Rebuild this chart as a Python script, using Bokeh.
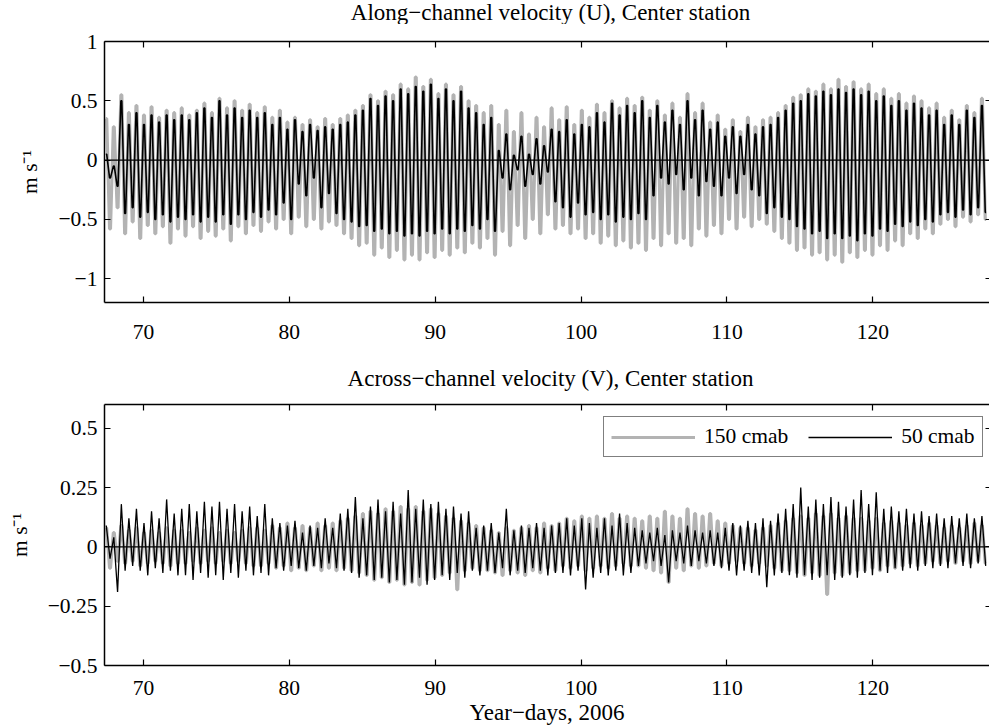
from bokeh.plotting import figure
from bokeh.models import Span, LinearAxis, Legend, LegendItem, FixedTicker, Range1d, Title, Label
from bokeh.layouts import column
from bokeh.embed import file_html
from bokeh.resources import INLINE

FONT = "Liberation Serif"
FS = "21.5px"
FS_TITLE = "23px"
GRAY = "#b3b3b3"

# sampling of the semidiurnal cycles (year-day of first flood peak, cycle length in days)
start_day = 67.45
tidal_period = 0.5175

x_ticks = [70, 80, 90, 100, 110, 120]
u_ticks = [-1, -0.5, 0, 0.5, 1]
u_tick_labels = ["\u22121", "\u22120.5", "0", "0.5", "1"]
v_ticks = [-0.5, -0.25, 0, 0.25, 0.5]
v_tick_labels = ["\u22120.5", "\u22120.25", "0", "0.25", "0.5"]

# Along-channel velocity U (m/s): flood peak / ebb trough of each tidal cycle
u150_hi = [0.35, 0.28, 0.55, 0.40, 0.46, 0.38, 0.45, 0.36, 0.42, 0.40,
           0.44, 0.38, 0.42, 0.48, 0.40, 0.52, 0.44, 0.50, 0.42, 0.47,
           0.40, 0.45, 0.36, 0.42, 0.32, 0.36, 0.30, 0.34, 0.28, 0.35,
           0.30, 0.35, 0.38, 0.42, 0.46, 0.55, 0.50, 0.58, 0.55, 0.64,
           0.60, 0.70, 0.62, 0.68, 0.56, 0.64, 0.55, 0.62, 0.50, 0.46,
           0.40, 0.46, 0.30, 0.42, 0.24, 0.40, 0.22, 0.36, 0.28, 0.44,
           0.34, 0.45, 0.30, 0.42, 0.36, 0.47, 0.40, 0.50, 0.44, 0.52,
           0.46, 0.53, 0.42, 0.50, 0.38, 0.48, 0.36, 0.56, 0.40, 0.48,
           0.32, 0.38, 0.26, 0.34, 0.24, 0.36, 0.28, 0.34, 0.36, 0.40,
           0.46, 0.53, 0.55, 0.60, 0.58, 0.64, 0.60, 0.68, 0.62, 0.66,
           0.60, 0.64, 0.56, 0.60, 0.52, 0.56, 0.48, 0.54, 0.50, 0.44,
           0.48, 0.36, 0.42, 0.34, 0.46, 0.40, 0.52]
u150_lo = [-0.58, -0.40, -0.62, -0.52, -0.66, -0.55, -0.62, -0.56, -0.70, -0.58,
           -0.64, -0.56, -0.66, -0.60, -0.64, -0.58, -0.68, -0.56, -0.62, -0.55,
           -0.60, -0.52, -0.58, -0.50, -0.62, -0.48, -0.56, -0.50, -0.58, -0.52,
           -0.55, -0.62, -0.66, -0.72, -0.70, -0.80, -0.74, -0.82, -0.76, -0.84,
           -0.80, -0.84, -0.78, -0.82, -0.76, -0.80, -0.74, -0.78, -0.70, -0.74,
           -0.66, -0.80, -0.60, -0.72, -0.55, -0.66, -0.50, -0.62, -0.46, -0.58,
           -0.55, -0.62, -0.58, -0.66, -0.62, -0.70, -0.64, -0.72, -0.68, -0.74,
           -0.70, -0.76, -0.66, -0.72, -0.62, -0.70, -0.66, -0.72, -0.58, -0.64,
           -0.55, -0.62, -0.50, -0.58, -0.48, -0.56, -0.50, -0.54, -0.60, -0.66,
           -0.70, -0.76, -0.74, -0.80, -0.78, -0.84, -0.80, -0.86, -0.78, -0.82,
           -0.76, -0.80, -0.72, -0.76, -0.68, -0.72, -0.62, -0.66, -0.58, -0.62,
           -0.54, -0.50, -0.56, -0.48, -0.52, -0.46, -0.50]
u50_hi = [0.05, -0.05, 0.50, 0.30, 0.40, 0.30, 0.38, 0.32, 0.38, 0.34,
          0.38, 0.34, 0.40, 0.44, 0.36, 0.50, 0.38, 0.44, 0.36, 0.42,
          0.36, 0.40, 0.30, 0.36, 0.26, 0.34, 0.24, 0.30, 0.25, 0.28,
          0.26, 0.30, 0.32, 0.38, 0.42, 0.52, 0.46, 0.54, 0.50, 0.60,
          0.56, 0.62, 0.58, 0.64, 0.52, 0.60, 0.50, 0.58, 0.44, 0.40,
          0.30, 0.36, 0.08, 0.22, 0.04, 0.20, 0.05, 0.18, 0.12, 0.26,
          0.24, 0.34, 0.22, 0.30, 0.28, 0.40, 0.32, 0.48, 0.38, 0.46,
          0.40, 0.50, 0.36, 0.46, 0.32, 0.42, 0.30, 0.50, 0.34, 0.42,
          0.26, 0.32, 0.20, 0.28, 0.20, 0.30, 0.22, 0.28, 0.30, 0.36,
          0.42, 0.48, 0.50, 0.56, 0.54, 0.58, 0.55, 0.60, 0.57, 0.60,
          0.55, 0.58, 0.50, 0.54, 0.46, 0.50, 0.42, 0.48, 0.44, 0.38,
          0.42, 0.30, 0.38, 0.30, 0.42, 0.36, 0.46]
u50_lo = [-0.15, -0.22, -0.45, -0.40, -0.48, -0.44, -0.50, -0.46, -0.52, -0.48,
          -0.50, -0.46, -0.52, -0.48, -0.52, -0.46, -0.54, -0.46, -0.50, -0.44,
          -0.48, -0.42, -0.46, -0.36, -0.50, -0.20, -0.30, -0.15, -0.40, -0.28,
          -0.45, -0.50, -0.52, -0.56, -0.55, -0.60, -0.58, -0.62, -0.60, -0.64,
          -0.62, -0.64, -0.60, -0.62, -0.58, -0.62, -0.58, -0.60, -0.55, -0.58,
          -0.50, -0.60, -0.15, -0.25, -0.08, -0.22, -0.12, -0.20, -0.10, -0.35,
          -0.40, -0.48, -0.36, -0.46, -0.44, -0.50, -0.46, -0.52, -0.48, -0.50,
          -0.45, -0.50, -0.30, -0.15, -0.20, -0.12, -0.25, -0.15, -0.30, -0.18,
          -0.22, -0.30, -0.15, -0.28, -0.12, -0.25, -0.30, -0.45, -0.40, -0.48,
          -0.50, -0.56, -0.58, -0.62, -0.60, -0.66, -0.62, -0.66, -0.64, -0.68,
          -0.62, -0.64, -0.58, -0.60, -0.54, -0.56, -0.52, -0.55, -0.50, -0.52,
          -0.46, -0.44, -0.48, -0.42, -0.46, -0.40, -0.44]

# Across-channel velocity V (m/s)
v150_hi = [0.08, 0.06, 0.09, 0.07, 0.08, 0.06, 0.07, 0.06, 0.08, 0.07,
           0.07, 0.06, 0.08, 0.07, 0.08, 0.06, 0.07, 0.06, 0.07, 0.08,
           0.08, 0.07, 0.09, 0.08, 0.10, 0.08, 0.09, 0.08, 0.10, 0.09,
           0.10, 0.11, 0.12, 0.13, 0.14, 0.15, 0.14, 0.16, 0.15, 0.17,
           0.16, 0.17, 0.15, 0.16, 0.14, 0.13, 0.12, 0.11, 0.10, 0.09,
           0.08, 0.07, 0.06, 0.08, 0.07, 0.08, 0.09, 0.08, 0.10, 0.09,
           0.10, 0.12, 0.11, 0.13, 0.12, 0.13, 0.12, 0.14, 0.12, 0.13,
           0.12, 0.11, 0.13, 0.12, 0.15, 0.13, 0.12, 0.16, 0.14, 0.13,
           0.14, 0.11, 0.10, 0.09, 0.08, 0.08, 0.07, 0.08, 0.09, 0.10,
           0.11, 0.12, 0.13, 0.12, 0.14, 0.13, 0.14, 0.12, 0.13, 0.12,
           0.12, 0.11, 0.12, 0.10, 0.11, 0.10, 0.09, 0.10, 0.09, 0.10,
           0.09, 0.08, 0.09, 0.08, 0.09, 0.10, 0.09]
v150_lo = [-0.09, -0.06, -0.07, -0.06, -0.08, -0.07, -0.06, -0.07, -0.08, -0.07,
           -0.07, -0.06, -0.07, -0.06, -0.07, -0.06, -0.07, -0.06, -0.07, -0.08,
           -0.08, -0.07, -0.09, -0.08, -0.10, -0.09, -0.10, -0.08, -0.10, -0.09,
           -0.10, -0.09, -0.10, -0.11, -0.12, -0.14, -0.13, -0.15, -0.14, -0.16,
           -0.15, -0.16, -0.14, -0.13, -0.12, -0.11, -0.18, -0.10, -0.09, -0.10,
           -0.10, -0.11, -0.12, -0.10, -0.11, -0.12, -0.10, -0.11, -0.09, -0.10,
           -0.08, -0.09, -0.08, -0.10, -0.09, -0.08, -0.09, -0.08, -0.07, -0.08,
           -0.08, -0.09, -0.10, -0.11, -0.15, -0.09, -0.10, -0.08, -0.09, -0.08,
           -0.07, -0.08, -0.07, -0.06, -0.07, -0.08, -0.07, -0.08, -0.09, -0.10,
           -0.10, -0.11, -0.12, -0.11, -0.12, -0.20, -0.11, -0.12, -0.11, -0.10,
           -0.10, -0.09, -0.10, -0.08, -0.09, -0.08, -0.07, -0.08, -0.07, -0.06,
           -0.07, -0.06, -0.07, -0.06, -0.07, -0.06, -0.07]
v50_hi = [0.09, 0.04, 0.18, 0.12, 0.16, 0.10, 0.15, 0.12, 0.20, 0.14,
          0.16, 0.18, 0.15, 0.19, 0.17, 0.19, 0.16, 0.18, 0.15, 0.17,
          0.13, 0.18, 0.12, 0.10, 0.09, 0.11, 0.06, 0.09, 0.08, 0.12,
          0.08, 0.14, 0.16, 0.21, 0.12, 0.17, 0.20, 0.15, 0.19, 0.14,
          0.24, 0.16, 0.20, 0.18, 0.19, 0.16, 0.17, 0.14, 0.15, 0.08,
          0.09, 0.10, 0.06, 0.16, 0.07, 0.09, 0.08, 0.10, 0.08, 0.09,
          0.10, 0.12, 0.09, 0.12, 0.10, 0.08, 0.12, 0.09, 0.14, 0.10,
          0.08, 0.07, 0.06, 0.08, 0.05, 0.07, 0.06, 0.09, 0.07, 0.06,
          0.07, 0.06, 0.08, 0.10, 0.09, 0.11, 0.10, 0.12, 0.11, 0.14,
          0.16, 0.18, 0.25, 0.17, 0.20, 0.18, 0.21, 0.19, 0.17, 0.20,
          0.24, 0.18, 0.23, 0.16, 0.17, 0.15, 0.16, 0.14, 0.15, 0.13,
          0.14, 0.12, 0.13, 0.12, 0.14, 0.12, 0.13]
v50_lo = [-0.05, -0.19, -0.10, -0.08, -0.10, -0.12, -0.09, -0.11, -0.10, -0.12,
          -0.12, -0.14, -0.11, -0.13, -0.12, -0.14, -0.11, -0.13, -0.10, -0.12,
          -0.11, -0.12, -0.09, -0.10, -0.08, -0.09, -0.10, -0.08, -0.09, -0.07,
          -0.09, -0.10, -0.11, -0.13, -0.12, -0.14, -0.13, -0.15, -0.14, -0.16,
          -0.15, -0.13, -0.16, -0.14, -0.12, -0.14, -0.11, -0.13, -0.10, -0.12,
          -0.10, -0.11, -0.09, -0.12, -0.10, -0.11, -0.09, -0.10, -0.12, -0.11,
          -0.11, -0.12, -0.10, -0.18, -0.13, -0.11, -0.12, -0.10, -0.12, -0.11,
          -0.08, -0.07, -0.06, -0.08, -0.15, -0.06, -0.07, -0.08, -0.06, -0.07,
          -0.08, -0.09, -0.10, -0.12, -0.10, -0.11, -0.12, -0.17, -0.12, -0.11,
          -0.12, -0.13, -0.12, -0.14, -0.13, -0.12, -0.14, -0.13, -0.12, -0.13,
          -0.11, -0.12, -0.10, -0.11, -0.09, -0.10, -0.09, -0.10, -0.08, -0.09,
          -0.08, -0.09, -0.07, -0.08, -0.09, -0.07, -0.08]

X0, X1 = 67.33, 128.0
PAGE_W = 989
FRAME_LEFT = 104
TITLE_CENTER = 550


def series(hi, lo, hold):
    # each extreme is held for a short time (flat crest / trough of the tidal cycle)
    t, v = [], []
    for i, (h, l) in enumerate(zip(hi, lo)):
        th = start_day + i * tidal_period
        tl = th + tidal_period / 2
        t += [th - hold, th + hold, tl - hold, tl + hold]
        v += [h, h, l, l]
    return t, v


def style_axis(ax, labels=True):
    ax.axis_line_width = 1.5
    ax.axis_line_color = "black"
    ax.major_tick_in = 6
    ax.major_tick_out = 0
    ax.major_tick_line_width = 1.2
    ax.major_tick_line_color = "black"
    ax.minor_tick_line_color = None
    ax.major_label_text_font = FONT
    ax.major_label_text_font_size = FS if labels else "1px"
    ax.major_label_text_color = "black" if labels else None
    ax.axis_label_text_font = FONT
    ax.axis_label_text_font_size = FS
    ax.axis_label_text_font_style = "normal"
    ax.axis_label_text_color = "black"


def make_title(text, standoff):
    return Title(text=text, align="center", standoff=standoff,
                 text_font=FONT, text_font_size=FS_TITLE, text_font_style="normal", text_color="black")


def title_strip(text, height):
    # a bare strip (no axes) that only carries a heading; its frame is aligned with the plots below
    p = figure(width=PAGE_W, height=height, x_range=Range1d(FRAME_LEFT, PAGE_W),
               y_range=Range1d(0, height), output_backend="svg", toolbar_location=None, title=None,
               min_border=0, x_axis_location=None, y_axis_location=None)
    p.outline_line_color = None
    p.grid.visible = False
    p.background_fill_color = "white"
    p.border_fill_color = "white"
    p.add_layout(Label(x=TITLE_CENTER, y=height / 2, text=text, text_align="center",
                       text_baseline="middle", text_font=FONT, text_font_size=FS_TITLE,
                       text_color="black"))
    return p


def make_fig(height, btop, bbottom, yr, yticks, ylabels, xstand):
    p = figure(width=PAGE_W, height=height, x_range=Range1d(X0, X1), y_range=Range1d(*yr),
               output_backend="svg", toolbar_location=None, title=None,
               min_border_left=FRAME_LEFT, min_border_right=0, min_border_top=btop,
               min_border_bottom=bbottom)
    p.outline_line_color = None
    p.xgrid.visible = False
    p.ygrid.visible = False
    p.background_fill_color = "white"
    p.border_fill_color = "white"

    bottom = p.below[0]
    left = p.left[0]
    style_axis(bottom)
    style_axis(left)
    bottom.ticker = FixedTicker(ticks=x_ticks)
    bottom.major_label_standoff = xstand
    left.ticker = FixedTicker(ticks=yticks)
    left.major_label_overrides = {float(k): s for k, s in zip(yticks, ylabels)}
    left.major_label_standoff = 7
    left.axis_label = "m s\u207b\u00b9"
    left.axis_label_standoff = 13

    top = LinearAxis(ticker=FixedTicker(ticks=x_ticks), major_label_standoff=0)
    style_axis(top, labels=False)
    p.add_layout(top, "above")

    right = LinearAxis(ticker=FixedTicker(ticks=yticks), major_label_standoff=0)
    style_axis(right, labels=False)
    right.axis_line_color = None
    right.major_tick_in = 4
    p.add_layout(right, "right")

    p.add_layout(Span(location=0, dimension="width", line_color="black", line_width=1.2))
    return p


p0 = title_strip("Along\u2212channel velocity (U), Center station", 24)

p1 = make_fig(341, 17, 63, (-1.2, 1.0), u_ticks, u_tick_labels, 22)
t, v = series(u150_hi, u150_lo, 0.03)
p1.line(t, v, line_color=GRAY, line_width=3.2)
t, v = series(u50_hi, u50_lo, 0.03)
p1.line(t, v, line_color="black", line_width=1.6)

pm = title_strip("Across\u2212channel velocity (V), Center station", 26)

p2 = make_fig(337, 13, 63, (-0.5, 0.6), v_ticks, v_tick_labels, 15)
t, v = series(v150_hi, v150_lo, 0.03)
r_g = p2.line(t, v, line_color=GRAY, line_width=3.2)
t, v = series(v50_hi, v50_lo, 0.0)
r_k = p2.line(t, v, line_color="black", line_width=1.3)
p2.add_layout(make_title("Year\u2212days, 2006", 0), "below")

leg = Legend(items=[LegendItem(label="150 cmab", renderers=[r_g]),
                    LegendItem(label="50 cmab", renderers=[r_k])],
             orientation="horizontal", location=(499, 208),
             glyph_width=84, glyph_height=20, label_standoff=9, spacing=20, padding=7,
             border_line_color="black", border_line_width=1.2, background_fill_alpha=1.0,
             label_text_font="serif", label_text_font_size=FS,
             label_text_color="black")
p2.add_layout(leg)

layout = column(p0, p1, pm, p2, spacing=0)
open("out.html", "w").write(file_html(layout, INLINE))
